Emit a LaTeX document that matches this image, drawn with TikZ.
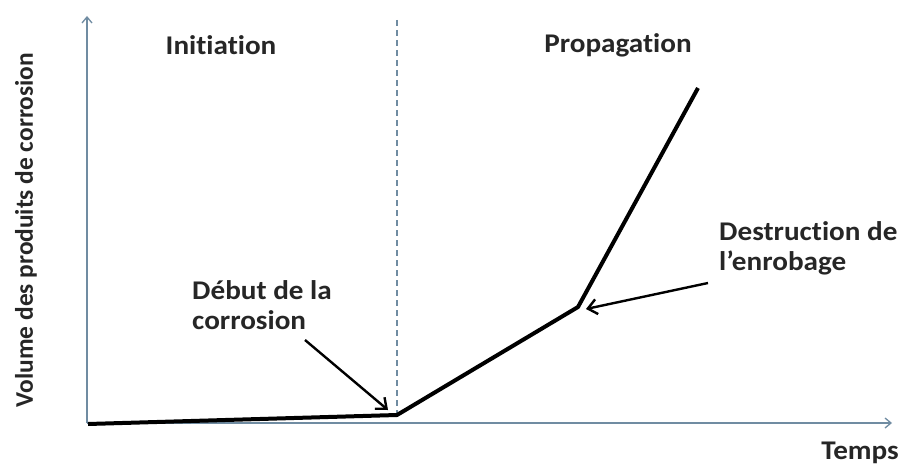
\documentclass[tikz,border=0pt]{standalone}
\usepackage{fontspec}
\setmainfont{Carlito}[Ligatures={NoCommon}]
\usetikzlibrary{arrows.meta}
\definecolor{axiscol}{RGB}{112,140,162}
\begin{document}
\begin{tikzpicture}[x=1pt,y=-1pt,
  axis/.style={draw=axiscol,line width=1.3pt,-{Straight Barb[length=6pt,width=10pt]}},
  curve/.style={draw=black,line width=4pt,line join=miter},
  pointer/.style={draw=black,line width=2.4pt,-{Straight Barb[length=9pt,width=15pt,line width=2.4pt]}},
  lbl/.style={font=\fontsize{27}{30}\selectfont\bfseries,text=black!85,inner sep=0pt,xscale=1.08}]
\useasboundingbox (0,0) rectangle (902,468);
\coordinate (O) at (87,423);
\coordinate (ytop) at (87,16);
\coordinate (xend) at (892,423);
\coordinate (p0) at (88,424);
\coordinate (p1) at (397,415);
\coordinate (p2) at (578,307);
\coordinate (p3) at (698,88);
\coordinate (dtop) at (397,20);
\coordinate (dbot) at (397,418);
\draw[axis] (O) -- (ytop);
\draw[axis] (O) -- (xend);
\draw[axiscol,line width=1.3pt,dash pattern=on 6pt off 4pt] (dtop) -- (dbot);
\draw[curve] (p0) -- (p1) -- (p2) -- (p3);
\node[lbl] (init) at (221,45) {Initiation};
\node[lbl] (prop) at (618,45) {Propagation};
\node[lbl,anchor=west,align=left] (debut) at (192,305) {Début de la\\corrosion};
\node[lbl,anchor=west,align=left] (destr) at (719,248) {Destruction de\\l’enrobage};
\node[lbl,anchor=east] (temps) at (899,453) {Temps};
\node[lbl,xscale=1/1.08,scale=0.94,rotate=90] (ylab) at (26,230) {Volume des produits de corrosion};
\coordinate (a1s) at (305,340);
\coordinate (a1e) at (388,410);
\coordinate (a2s) at (708,283);
\coordinate (a2e) at (586,309);
\draw[pointer] (a1s) -- (a1e);
\draw[pointer] (a2s) -- (a2e);
\end{tikzpicture}
\end{document}
